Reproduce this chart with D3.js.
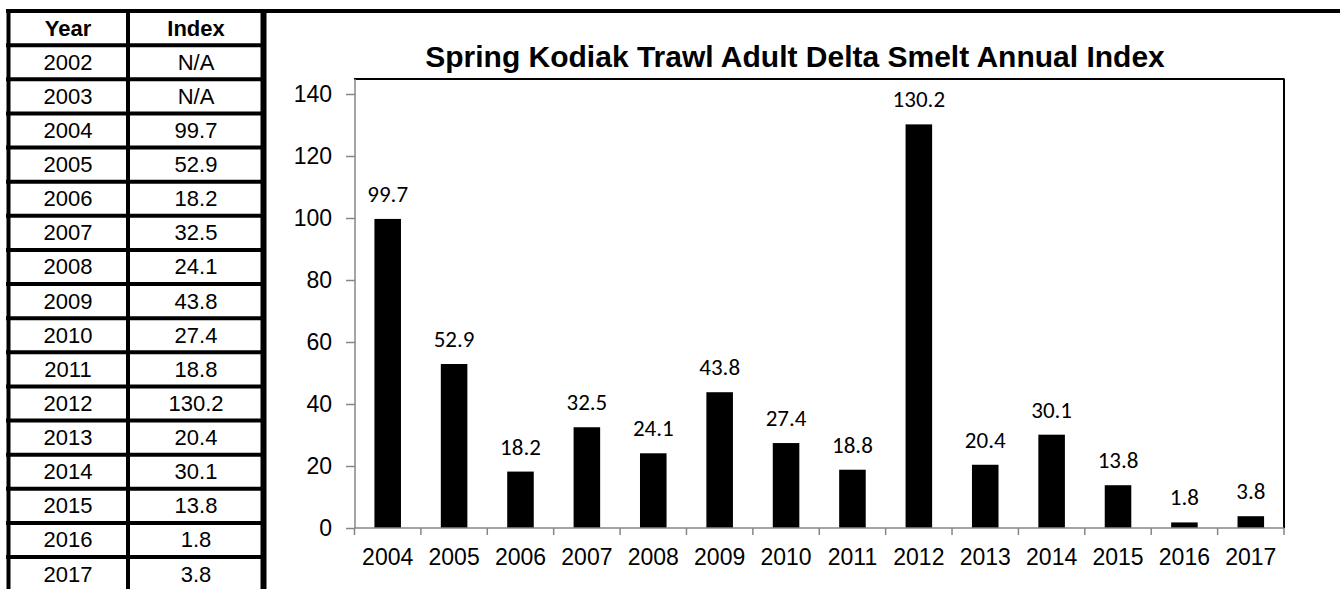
<!DOCTYPE html>
<html><head><meta charset="utf-8">
<script src="https://cdn.jsdelivr.net/npm/d3@7"></script>
<style>body{margin:0;background:#fff}svg{display:block}</style></head>
<body>
<svg id="c" width="1340" height="589"></svg>
<script>
// ---- data ----
const tableHeader = ["Year", "Index"];
const tableYears = ["2002","2003","2004","2005","2006","2007","2008","2009","2010","2011","2012","2013","2014","2015","2016","2017"];
const tableValues = ["N/A","N/A","99.7","52.9","18.2","32.5","24.1","43.8","27.4","18.8","130.2","20.4","30.1","13.8","1.8","3.8"];
const years = ["2004","2005","2006","2007","2008","2009","2010","2011","2012","2013","2014","2015","2016","2017"];
const values = [99.7,52.9,18.2,32.5,24.1,43.8,27.4,18.8,130.2,20.4,30.1,13.8,1.8,3.8];
const yTicks = [0,20,40,60,80,100,120,140];
const title = "Spring Kodiak Trawl Adult Delta Smelt Annual Index";

const svg = d3.select("#c");
const AX = "#868686";

// ---- table ----
const rowY = d3.scaleLinear().domain([0, 16]).range([11, 557]);
const colX = d3.scaleOrdinal().domain(["Year","Index"]).range([68, 196]);
const tbl = svg.append("g");
const rows = [tableHeader].concat(tableYears.map((y, i) => [y, tableValues[i]]));
tbl.selectAll("line.h").data(d3.range(1, 17)).join("line")
  .attr("x1", 6).attr("x2", 264).attr("y1", d => rowY(d)).attr("y2", d => rowY(d))
  .attr("stroke", "#000").attr("stroke-width", 4);
tbl.append("line").attr("x1", 6).attr("x2", 1340).attr("y1", rowY(0)).attr("y2", rowY(0))
  .attr("stroke", "#000").attr("stroke-width", 4);
[[8.5, 4], [128, 4], [263.5, 6]].forEach(([x, w]) => {
  tbl.append("line").attr("x1", x).attr("x2", x).attr("y1", 9).attr("y2", 589)
    .attr("stroke", "#000").attr("stroke-width", w);
});
rows.forEach((r, i) => {
  const cy = (rowY(i) + rowY(i + 1)) / 2 + 7.5;
  r.forEach((t, j) => {
    tbl.append("text").attr("x", colX(tableHeader[j])).attr("y", cy)
      .attr("text-anchor", "middle")
      .attr("font-family", "Liberation Sans, Arial, sans-serif")
      .attr("font-size", 22)
      .attr("font-weight", i === 0 ? "bold" : "normal")
      .attr("fill", "#000").text(t);
  });
});

// ---- chart ----
const x = d3.scaleBand().domain(years).range([354.5, 1284]).paddingInner(0.6).paddingOuter(0.3);
const y = d3.scaleLinear().domain([0, 140]).range([528, 94]);
const plotTop = 79;

svg.append("text").attr("x", 795).attr("y", 67).attr("text-anchor", "middle")
  .attr("font-family", "Liberation Sans, Arial, sans-serif").attr("font-weight", "bold")
  .attr("font-size", 30).attr("fill", "#000").text(title);

svg.append("line").attr("x1", 354).attr("x2", 1284.5).attr("y1", plotTop).attr("y2", plotTop)
  .attr("stroke", "#000").attr("stroke-width", 2);
svg.append("line").attr("x1", 1284).attr("x2", 1284).attr("y1", plotTop).attr("y2", y(0))
  .attr("stroke", "#000").attr("stroke-width", 2);

svg.append("g").selectAll("rect").data(values).join("rect")
  .attr("x", (d, i) => x(years[i])).attr("width", x.bandwidth())
  .attr("y", d => y(d)).attr("height", d => y(0) - y(d)).attr("fill", "#000");

svg.append("g").selectAll("text").data(values).join("text")
  .attr("x", (d, i) => x(years[i]) + x.bandwidth() / 2)
  .attr("y", d => y(d) - 17)
  .attr("text-anchor", "middle")
  .attr("font-family", "Carlito, Calibri, Lato, sans-serif")
  .attr("font-size", 23).attr("fill", "#000")
  .text(d => d.toFixed(1));

const yAxis = svg.append("g").attr("transform", "translate(355,0)")
  .call(d3.axisLeft(y).tickValues(yTicks).tickSize(9).tickPadding(14).tickSizeOuter(0));
yAxis.select(".domain").remove();
yAxis.append("line").attr("x1", 0).attr("x2", 0).attr("y1", plotTop).attr("y2", y(0))
  .attr("stroke", AX).attr("stroke-width", 1.5);
yAxis.selectAll(".tick line").attr("stroke", AX).attr("stroke-width", 1.5);
yAxis.selectAll(".tick text").attr("font-family", "Liberation Sans, Arial, sans-serif")
  .attr("font-size", 23).attr("fill", "#000");

const xAxis = svg.append("g").attr("transform", `translate(0,${y(0)})`)
  .call(d3.axisBottom(x).tickSize(0).tickPadding(21).tickSizeOuter(0));
xAxis.select(".domain").remove();
const r0 = x.range()[0], step = x.step();
xAxis.append("line").attr("x1", r0).attr("x2", x.range()[1]).attr("y1", 0).attr("y2", 0)
  .attr("stroke", AX).attr("stroke-width", 1.5);
xAxis.selectAll("line.bt").data(d3.range(0, years.length + 1)).join("line").attr("class", "bt")
  .attr("x1", i => r0 + i * step).attr("x2", i => r0 + i * step).attr("y1", 0).attr("y2", 7)
  .attr("stroke", AX).attr("stroke-width", 1.5);
xAxis.selectAll(".tick text").attr("font-family", "Liberation Sans, Arial, sans-serif")
  .attr("font-size", 23).attr("fill", "#000");
</script>
</body></html>
